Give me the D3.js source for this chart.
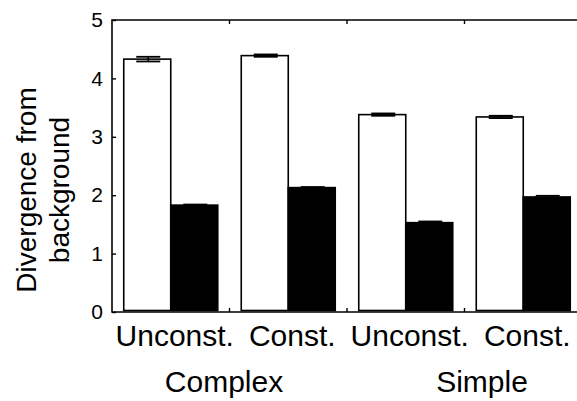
<!DOCTYPE html>
<html>
<head>
<meta charset="utf-8">
<script src="https://cdn.jsdelivr.net/npm/d3@7"></script>
<style>
  html, body { margin: 0; padding: 0; background: #fff; }
  svg { display: block; }
  text { font-family: "Liberation Sans", Arial, Helvetica, sans-serif; fill: #000; }
</style>
</head>
<body>
<svg id="chart" width="577" height="401"></svg>
<script>
// ---- data ----
const categories = ["Unconst.", "Const.", "Unconst.", "Const."];
const groupLabels = ["Complex", "Simple"];
const series = ["open", "filled"];
const openValues = [4.33, 4.39, 3.38, 3.34];
const openErrors = [0.04, 0.02, 0.02, 0.02];
const filledValues = [1.83, 2.13, 1.53, 1.97];
const filledErrors = [0.01, 0.01, 0.02, 0.02];
const yTicks = [0, 1, 2, 3, 4, 5];
const yLabelLines = ["Divergence from", "background"];

// ---- layout ----
const svg = d3.select("#chart");
const mLeft = 112, mRight = 582, mTop = 20, mBottom = 312;

const x0 = d3.scaleBand()
  .domain(d3.range(categories.length))
  .range([mLeft, mRight])
  .paddingInner(0.2)
  .paddingOuter(0.1);
const x1 = d3.scaleBand().domain(series).range([0, x0.bandwidth()]);
const y = d3.scaleLinear().domain([0, 5]).range([mBottom, mTop]);

const rows = categories.map((c, i) => ({
  i, cat: c,
  vals: [
    { s: "open", v: openValues[i], e: openErrors[i] },
    { s: "filled", v: filledValues[i], e: filledErrors[i] }
  ]
}));

// bars
const g = svg.append("g");
const grp = g.selectAll("g.grp").data(rows).join("g")
  .attr("class", "grp")
  .attr("transform", d => `translate(${x0(d.i)},0)`);

grp.selectAll("rect").data(d => d.vals).join("rect")
  .attr("x", d => x1(d.s))
  .attr("y", d => y(d.v))
  .attr("width", x1.bandwidth())
  .attr("height", d => y(0) - y(d.v) - 1.5)
  .attr("fill", d => d.s === "open" ? "#fff" : "#000")
  .attr("stroke", "#000")
  .attr("stroke-width", 1.6);

// error bars
const capW = 24;
grp.selectAll("g.err").data(d => d.vals).join("g").attr("class", "err")
  .each(function(d) {
    const cx = x1(d.s) + x1.bandwidth() / 2 + 1;
    const s = d3.select(this);
    s.append("line").attr("x1", cx).attr("x2", cx)
      .attr("y1", y(d.v + d.e)).attr("y2", y(d.v - d.e))
      .attr("stroke", "#000").attr("stroke-width", 1.6);
    [d.v + d.e, d.v - d.e].forEach(val => {
      s.append("line").attr("x1", cx - capW / 2).attr("x2", cx + capW / 2)
        .attr("y1", y(val)).attr("y2", y(val))
        .attr("stroke", "#000").attr("stroke-width", 1.8);
    });
  });

// frame
const frame = svg.append("g").attr("stroke", "#000").attr("stroke-width", 1.6).attr("fill", "none");
frame.append("path").attr("d", `M${mRight},${mTop}H${mLeft}V${mBottom}H${mRight}`);

// y axis ticks (inward) and labels
const yAxis = d3.axisLeft(y).tickValues(yTicks).tickSize(-4).tickPadding(13).tickFormat(d3.format("d"));
const ya = svg.append("g").attr("transform", `translate(${mLeft},0)`).call(yAxis);
ya.select(".domain").remove();
ya.selectAll(".tick line").attr("stroke", "#000").attr("stroke-width", 1.4);
ya.selectAll(".tick text").attr("font-size", 21).attr("font-family", "Liberation Sans, Arial, sans-serif").attr("x", -9);

// group boundary ticks on bottom and top
const bounds = d3.range(1, categories.length).map(i => x0(i) - x0.step() * x0.paddingInner() / 2);
svg.append("g").selectAll("line.b").data(bounds).join("line")
  .attr("x1", d => d).attr("x2", d => d)
  .attr("y1", mBottom).attr("y2", mBottom - 4)
  .attr("stroke", "#000").attr("stroke-width", 1.4);
svg.append("g").selectAll("line.t").data(bounds).join("line")
  .attr("x1", d => d).attr("x2", d => d)
  .attr("y1", mTop).attr("y2", mTop + 4)
  .attr("stroke", "#000").attr("stroke-width", 1.4);

// category labels
svg.append("g").selectAll("text").data(rows).join("text")
  .attr("x", d => x0(d.i) + x0.bandwidth() / 2 + 4)
  .attr("y", 346)
  .attr("text-anchor", "middle")
  .attr("font-size", 30)
  .text(d => d.cat);

// group labels
const groupX = [224, 482];
svg.append("g").selectAll("text").data(groupLabels).join("text")
  .attr("x", (d, i) => groupX[i])
  .attr("y", 392)
  .attr("text-anchor", "middle")
  .attr("font-size", 30)
  .text(d => d);

// y label
const yl = svg.append("text")
  .attr("transform", "translate(0,190) rotate(-90)")
  .attr("text-anchor", "middle")
  .attr("font-size", 28);
yl.selectAll("tspan").data(yLabelLines).join("tspan")
  .attr("x", 0)
  .attr("y", (d, i) => [36, 69][i])
  .text(d => d);
</script>
</body>
</html>
